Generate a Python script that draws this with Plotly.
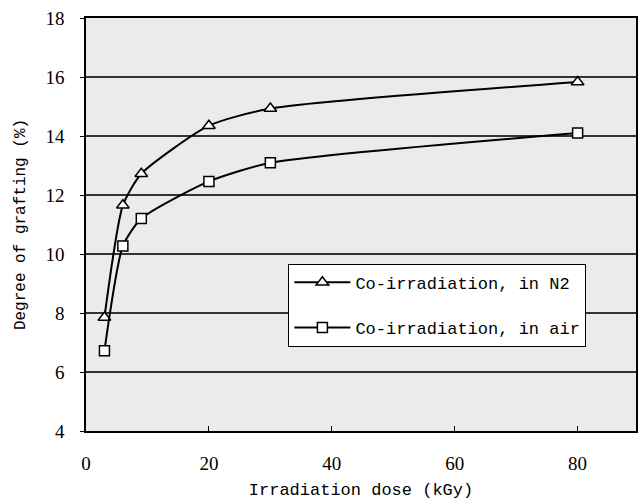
import plotly.graph_objects as go

dose = [3, 6, 9, 20, 30, 80]
graft_n2 = [7.85, 11.65, 12.72, 14.35, 14.93, 15.83]
graft_air = [6.72, 10.27, 11.2, 12.46, 13.09, 14.1]
names = ["Co-irradiation, in N2", "Co-irradiation, in air"]
x_ticks = [0, 20, 40, 60, 80]
y_ticks = [4, 6, 8, 10, 12, 14, 16, 18]

mono = "Liberation Mono"
serif = "Liberation Serif"

fig = go.Figure()
fig.add_trace(go.Scatter(
    x=dose, y=graft_n2, name=names[0], mode="lines+markers",
    line=dict(color="black", width=2, shape="spline", smoothing=0.6),
    marker=dict(symbol="triangle-up", size=11, color="white",
                line=dict(color="black", width=1.5)),
    legendgroup="a"))
fig.add_trace(go.Scatter(
    x=dose, y=graft_air, name=names[1], mode="lines+markers",
    line=dict(color="black", width=2, shape="spline", smoothing=0.6),
    marker=dict(symbol="square", size=10, color="white",
                line=dict(color="black", width=1.5)),
    legendgroup="b"))

fig.update_layout(
    width=638, height=500,
    margin=dict(l=86, r=0, t=18, b=66),
    paper_bgcolor="white",
    plot_bgcolor="#ebebeb",
    font=dict(family=mono, size=16, color="black"),
    showlegend=True,
    legend=dict(
        x=0.368, y=0.405, xanchor="left", yanchor="top",
        bgcolor="white", bordercolor="black", borderwidth=1,
        font=dict(family=mono, size=17),
        tracegroupgap=20, traceorder="grouped",
        itemwidth=56,
    ),
    xaxis=dict(
        range=[0, 89.5], tickvals=x_ticks, showgrid=False, zeroline=False,
        showline=True, linecolor="black", linewidth=1.5, mirror=True,
        ticks="inside", ticklen=5, tickcolor="black",
        tickfont=dict(family=serif, size=19), ticklabelstandoff=14,
        title=dict(text="Irradiation dose (kGy)", font=dict(family=mono, size=17), standoff=15),
    ),
    yaxis=dict(
        range=[4, 18], tickvals=y_ticks, showgrid=True, gridcolor="#333333", gridwidth=1.5,
        zeroline=False, showline=True, linecolor="black", linewidth=1.5, mirror=True,
        ticks="outside", ticklen=4, tickcolor="black",
        tickfont=dict(family=serif, size=19), ticklabelstandoff=12,
        title=dict(text="Degree of grafting (%)", font=dict(family=mono, size=16), standoff=16),
    ),
)

fig.write_html("out.html")
